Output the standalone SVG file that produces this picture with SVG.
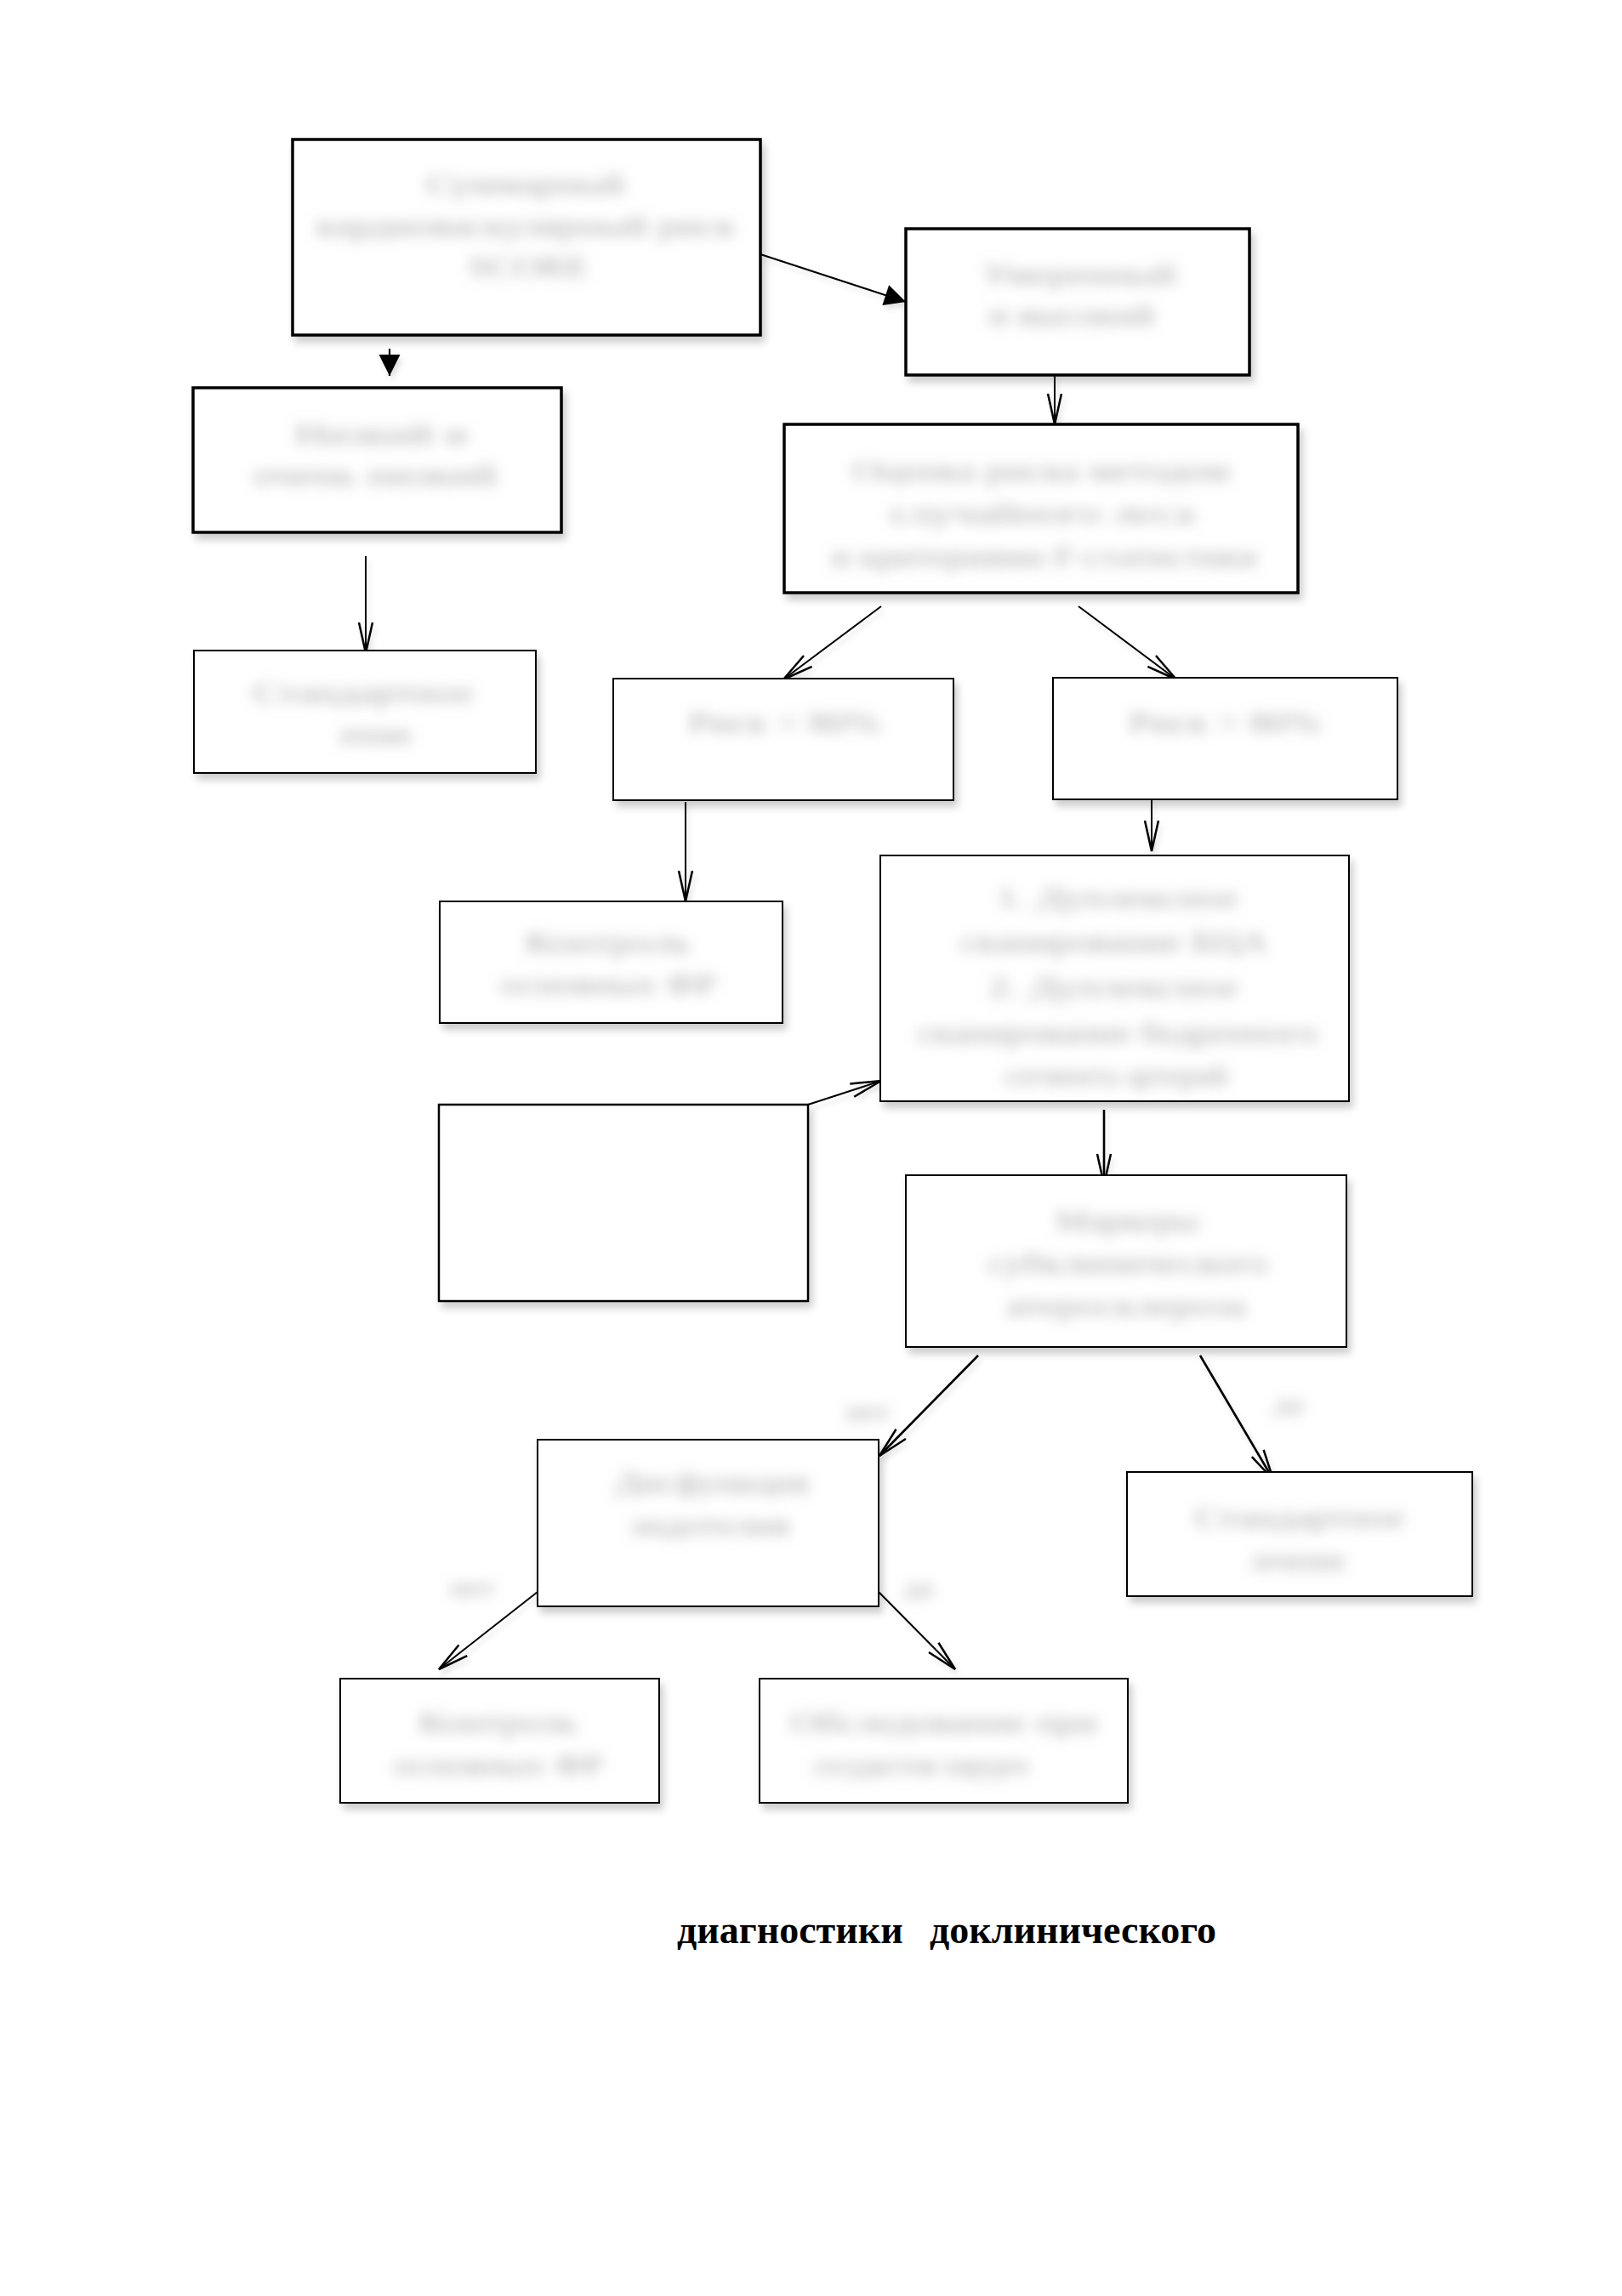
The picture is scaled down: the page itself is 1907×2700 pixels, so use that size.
<svg xmlns="http://www.w3.org/2000/svg" width="1907" height="2700" viewBox="0 0 1907 2700">
<defs>
  <filter id="shadow" x="-10%" y="-10%" width="125%" height="130%">
    <feDropShadow dx="4" dy="7" stdDeviation="5" flood-color="#000" flood-opacity="0.2"/>
  </filter>
  <filter id="lshadow" filterUnits="userSpaceOnUse" x="0" y="0" width="1907" height="2700">
    <feDropShadow dx="3" dy="5" stdDeviation="3" flood-color="#000" flood-opacity="0.12"/>
  </filter>
  <filter id="blur" filterUnits="userSpaceOnUse" x="0" y="0" width="1907" height="2700">
    <feGaussianBlur stdDeviation="8"/>
  </filter>
  <marker id="open" viewBox="-40 -12 44 24" refX="0" refY="0" markerWidth="44" markerHeight="24" markerUnits="userSpaceOnUse" orient="auto">
    <path d="M-36,-8 L0,0 L-36,8" fill="none" stroke="#000" stroke-width="2.5"/>
  </marker>
  <marker id="filled" viewBox="-28 -14 30 28" refX="0" refY="0" markerWidth="30" markerHeight="28" markerUnits="userSpaceOnUse" orient="auto">
    <path d="M-25,-12.5 L0,0 L-25,12.5 Z" fill="#000"/>
  </marker>
</defs>
<style>
  .thick { fill: #fff; stroke: #000; stroke-width: 3.5; filter: url(#shadow); }
  .thin { fill: #fff; stroke: #000; stroke-width: 2; filter: url(#shadow); }
  .t { font-family: "Liberation Serif", "Times New Roman", serif; font-size: 34px; fill: #a8a8a8; text-anchor: middle; }
  .lbl { font-family: "Liberation Serif", "Times New Roman", serif; font-size: 30px; fill: #a8a8a8; text-anchor: middle; }
  .blurred { filter: url(#blur); }
  .c { fill: none; stroke: #000; stroke-width: 2; marker-end: url(#open); }
  .cb { fill: none; stroke: #000; stroke-width: 2.6; marker-end: url(#open); }
  .cf { fill: none; stroke: #000; stroke-width: 2.2; marker-end: url(#filled); }
  .title { font-family: "Liberation Serif", "Times New Roman", serif; font-size: 46px; font-weight: bold; fill: #000; }
</style>
<rect width="1907" height="2700" fill="#fff"/>

<g id="connectors">
  <g style="filter:url(#lshadow)">
    <line class="cf" x1="894" y1="299" x2="1065" y2="355"/>
    <line class="cf" x1="458" y1="410" x2="458" y2="442"/>
    <line class="c" x1="1240" y1="441" x2="1240" y2="499"/>
    <line class="c" x1="430" y1="654" x2="430" y2="768"/>
    <line class="c" x1="1036" y1="713" x2="921" y2="799"/>
    <line class="c" x1="1268" y1="713" x2="1383" y2="799"/>
    <line class="c" x1="806" y1="943" x2="806" y2="1060"/>
    <line class="c" x1="1354" y1="941" x2="1354" y2="1001"/>
    <line class="c" x1="950" y1="1299" x2="1036" y2="1271"/>
    <line class="cb" x1="1298" y1="1305" x2="1298" y2="1393"/>
    <line class="cb" x1="1150" y1="1594" x2="1034" y2="1712"/>
    <line class="cb" x1="1411" y1="1594" x2="1497" y2="1740"/>
    <line class="c" x1="632" y1="1872" x2="516" y2="1963"/>
    <line class="c" x1="1033" y1="1872" x2="1123" y2="1963"/>
  </g>
  <g class="blurred">
    <text class="lbl" x="1020" y="1670" textLength="52" lengthAdjust="spacingAndGlyphs">нет</text>
    <text class="lbl" x="1515" y="1661" textLength="35" lengthAdjust="spacingAndGlyphs">да</text>
    <text class="lbl" x="555" y="1877" textLength="52" lengthAdjust="spacingAndGlyphs">нет</text>
    <text class="lbl" x="1080" y="1877" textLength="35" lengthAdjust="spacingAndGlyphs">да</text>
  </g>
</g>

<g id="nodeA">
  <rect class="thick" x="344" y="164" width="550" height="230"/>
  <g class="blurred">
    <text class="t" x="618" y="228" textLength="233" lengthAdjust="spacingAndGlyphs">Суммарный</text>
    <text class="t" x="618" y="277" textLength="493" lengthAdjust="spacingAndGlyphs">кардиоваскулярный риск</text>
    <text class="t" x="621" y="325" textLength="142" lengthAdjust="spacingAndGlyphs">SCORE</text>
  </g>
</g>
<g id="nodeB">
  <rect class="thick" x="1065" y="269" width="404" height="172"/>
  <g class="blurred">
    <text class="t" x="1269" y="334" textLength="228" lengthAdjust="spacingAndGlyphs">Умеренный</text>
    <text class="t" x="1260" y="382" textLength="195" lengthAdjust="spacingAndGlyphs">и высокий</text>
  </g>
</g>
<g id="nodeC">
  <rect class="thick" x="227" y="456" width="433" height="170"/>
  <g class="blurred">
    <text class="t" x="448" y="522" textLength="204" lengthAdjust="spacingAndGlyphs">Низкий и</text>
    <text class="t" x="441" y="570" textLength="287" lengthAdjust="spacingAndGlyphs">очень низкий</text>
  </g>
</g>
<g id="nodeD">
  <rect class="thick" x="922" y="499" width="604" height="198"/>
  <g class="blurred">
    <text class="t" x="1224" y="565" textLength="443" lengthAdjust="spacingAndGlyphs">Оценка риска методом</text>
    <text class="t" x="1225" y="615" textLength="358" lengthAdjust="spacingAndGlyphs">случайного леса</text>
    <text class="t" x="1228" y="666" textLength="501" lengthAdjust="spacingAndGlyphs">и критериями F-статистики</text>
  </g>
</g>
<g id="nodeE">
  <rect class="thin" x="228" y="765" width="402" height="144"/>
  <g class="blurred">
    <text class="t" x="427" y="826" textLength="259" lengthAdjust="spacingAndGlyphs">Стандартное</text>
    <text class="t" x="441" y="875" textLength="86" lengthAdjust="spacingAndGlyphs">лечение</text>
  </g>
</g>
<g id="nodeF">
  <rect class="thin" x="721" y="798" width="400" height="143"/>
  <g class="blurred">
    <text class="t" x="922" y="861" textLength="225" lengthAdjust="spacingAndGlyphs">Риск &lt; 80%</text>
  </g>
</g>
<g id="nodeG">
  <rect class="thin" x="1238" y="797" width="405" height="143"/>
  <g class="blurred">
    <text class="t" x="1440" y="861" textLength="225" lengthAdjust="spacingAndGlyphs">Риск &gt; 80%</text>
  </g>
</g>
<g id="nodeH">
  <rect class="thin" x="517" y="1060" width="403" height="143"/>
  <g class="blurred">
    <text class="t" x="715" y="1120" textLength="195" lengthAdjust="spacingAndGlyphs">Контроль</text>
    <text class="t" x="715" y="1169" textLength="254" lengthAdjust="spacingAndGlyphs">основных ФР</text>
  </g>
</g>
<g id="nodeI">
  <rect class="thin" x="1035" y="1006" width="551" height="289"/>
  <g class="blurred">
    <text class="t" x="1314" y="1067" textLength="284" lengthAdjust="spacingAndGlyphs">1. Дуплексное</text>
    <text class="t" x="1310" y="1119" textLength="361" lengthAdjust="spacingAndGlyphs">сканирование БЦА</text>
    <text class="t" x="1309" y="1172" textLength="294" lengthAdjust="spacingAndGlyphs">2. Дуплексное</text>
    <text class="t" x="1314" y="1226" textLength="470" lengthAdjust="spacingAndGlyphs">сканирование бедренного</text>
    <text class="t" x="1312" y="1276" textLength="263" lengthAdjust="spacingAndGlyphs">сегмента артерий</text>
  </g>
</g>
<g id="nodeJ">
  <rect class="thin" x="516" y="1299" width="434" height="231" style="stroke-width:2.5"/>
</g>
<g id="nodeK">
  <rect class="thin" x="1065" y="1382" width="518" height="202"/>
  <g class="blurred">
    <text class="t" x="1325" y="1447" textLength="168" lengthAdjust="spacingAndGlyphs">Маркеры</text>
    <text class="t" x="1326" y="1497" textLength="329" lengthAdjust="spacingAndGlyphs">субклинического</text>
    <text class="t" x="1324" y="1547" textLength="282" lengthAdjust="spacingAndGlyphs">атеросклероза</text>
  </g>
</g>
<g id="nodeL">
  <rect class="thin" x="632" y="1693" width="401" height="196"/>
  <g class="blurred">
    <text class="t" x="837" y="1755" textLength="228" lengthAdjust="spacingAndGlyphs">Дисфункция</text>
    <text class="t" x="834" y="1805" textLength="188" lengthAdjust="spacingAndGlyphs">эндотелия</text>
  </g>
</g>
<g id="nodeM">
  <rect class="thin" x="1325" y="1731" width="406" height="146"/>
  <g class="blurred">
    <text class="t" x="1528" y="1796" textLength="247" lengthAdjust="spacingAndGlyphs">Стандартное</text>
    <text class="t" x="1526" y="1846" textLength="112" lengthAdjust="spacingAndGlyphs">лечение</text>
  </g>
</g>
<g id="nodeN">
  <rect class="thin" x="400" y="1974" width="375" height="146"/>
  <g class="blurred">
    <text class="t" x="586" y="2037" textLength="187" lengthAdjust="spacingAndGlyphs">Контроль</text>
    <text class="t" x="586" y="2087" textLength="246" lengthAdjust="spacingAndGlyphs">основных ФР</text>
  </g>
</g>
<g id="nodeO">
  <rect class="thin" x="893" y="1974" width="433" height="146"/>
  <g class="blurred">
    <text class="t" x="1110" y="2037" textLength="360" lengthAdjust="spacingAndGlyphs">Обследование при</text>
    <text class="t" x="1083" y="2087" textLength="254" lengthAdjust="spacingAndGlyphs">сосудистом хирурге</text>
  </g>
</g>

<g id="caption">
  <text class="title" x="796" y="2285">диагностики</text>
  <text class="title" x="1093" y="2285">доклинического</text>
</g>
</svg>
